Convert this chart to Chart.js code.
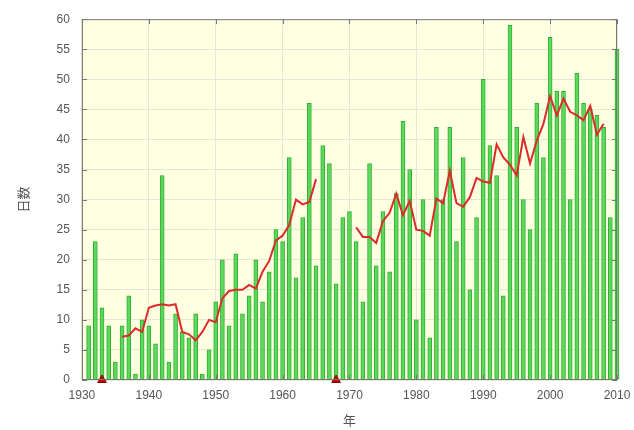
<!DOCTYPE html>
<html lang="ja">
<head>
<meta charset="utf-8">
<title>日数</title>
<script src="https://cdn.jsdelivr.net/npm/chart.js@4.4.1/dist/chart.umd.min.js"></script>
<style>
  html, body { margin: 0; padding: 0; background: #fff; }
  #wrap { width: 634px; height: 430px; }
</style>
</head>
<body>
<div id="wrap"><canvas id="grafico" width="634" height="430"></canvas></div>
<script>
// anos (1931-2010)
const anos = [
  1931, 1932, 1933, 1934, 1935, 1936, 1937, 1938, 1939, 1940,
  1941, 1942, 1943, 1944, 1945, 1946, 1947, 1948, 1949, 1950,
  1951, 1952, 1953, 1954, 1955, 1956, 1957, 1958, 1959, 1960,
  1961, 1962, 1963, 1964, 1965, 1966, 1967, 1968, 1969, 1970,
  1971, 1972, 1973, 1974, 1975, 1976, 1977, 1978, 1979, 1980,
  1981, 1982, 1983, 1984, 1985, 1986, 1987, 1988, 1989, 1990,
  1991, 1992, 1993, 1994, 1995, 1996, 1997, 1998, 1999, 2000,
  2001, 2002, 2003, 2004, 2005, 2006, 2007, 2008, 2009, 2010
];

// dias por ano (barras verdes)
const dias = [
   9, 23, 12,  9,  3,  9, 14,  1, 10,  9,
   6, 34,  3, 11,  8,  7, 11,  1,  5, 13,
  20,  9, 21, 11, 14, 20, 13, 18, 25, 23,
  37, 17, 27, 46, 19, 39, 36, 16, 27, 28,
  23, 13, 36, 19, 28, 18, 31, 43, 35, 10,
  30,  7, 42, 30, 42, 23, 37, 15, 27, 50,
  39, 34, 14, 59, 42, 30, 25, 46, 37, 57,
  48, 48, 30, 51, 46, 45, 44, 42, 27, 55
];

// media movel de 5 anos (linha vermelha), null = sem valor
const media5 = [
  null, null, null, null, null, 7.2, 7.4, 8.6, 8.0, 12.0,
  12.4, 12.6, 12.4, 12.6, 8.0, 7.6, 6.6, 8.0, 10.0, 9.6,
  13.6, 14.8, 15.0, 15.0, 15.8, 15.2, 18.0, 19.8, 23.2, 24.0,
  25.8, 30.0, 29.2, 29.6, 33.4, null, null, null, null, null,
  25.4, 23.8, 23.8, 22.8, 26.4, 27.8, 31.0, 27.4, 29.8, 25.0,
  24.8, 24.0, 30.2, 29.4, 34.8, 29.4, 28.8, 30.4, 33.6, 33.0,
  32.8, 39.2, 37.0, 35.8, 34.0, 40.4, 36.0, 39.8, 42.6, 47.2,
  44.0, 46.8, 44.6, 44.0, 43.2, 45.6, 40.8, 42.6, null, null
];

// anos marcados com triangulo
const marcas = [1933, 1968];

Chart.defaults.font.family = "'Liberation Sans', 'Noto Sans CJK JP', sans-serif";
Chart.defaults.font.size = 12;
Chart.defaults.color = "#555";

const fundo = {
  id: "fundo",
  beforeDraw(chart) {
    const { ctx, chartArea: a } = chart;
    ctx.save();
    ctx.fillStyle = "#ffffe2";
    ctx.fillRect(a.left, a.top, a.right - a.left, a.bottom - a.top);
    ctx.restore();
  },
  afterDatasetsDraw(chart) {
    const { ctx, chartArea: a, scales } = chart;
    ctx.save();
    ctx.strokeStyle = "#777";
    ctx.lineWidth = 1;
    ctx.strokeRect(a.left + 0.5, a.top + 0.5, a.right - a.left - 1, a.bottom - a.top - 1);
    // marcas internas estilo gnuplot
    ctx.beginPath();
    scales.x.ticks.forEach(t => {
      const x = Math.round(scales.x.getPixelForValue(t.value)) + 0.5;
      ctx.moveTo(x, a.top); ctx.lineTo(x, a.top + 5);
      ctx.moveTo(x, a.bottom); ctx.lineTo(x, a.bottom - 5);
    });
    scales.y.ticks.forEach(t => {
      const y = Math.round(scales.y.getPixelForValue(t.value)) + 0.5;
      ctx.moveTo(a.left, y); ctx.lineTo(a.left + 5, y);
      ctx.moveTo(a.right, y); ctx.lineTo(a.right - 5, y);
    });
    ctx.stroke();
    ctx.restore();
  }
};

new Chart(document.getElementById("grafico").getContext("2d"), {
  type: "bar",
  data: {
    datasets: [
      {
        type: "scatter",
        data: marcas.map(a => ({ x: a, y: 0 })),
        pointStyle: "triangle",
        pointRadius: 5,
        backgroundColor: "#c40000",
        borderColor: "#8a0000",
        borderWidth: 1,
        clip: false,
        order: 1
      },
      {
        type: "line",
        data: anos.map((a, i) => ({ x: a, y: media5[i] })),
        borderColor: "#dd2a2a",
        borderWidth: 2,
        pointRadius: 0,
        spanGaps: false,
        tension: 0,
        order: 2
      },
      {
        type: "bar",
        data: anos.map((a, i) => ({ x: a, y: dias[i] })),
        backgroundColor: "#5cd85c",
        borderColor: "#33b033",
        borderWidth: 1,
        barThickness: 4,
        clip: 4,
        order: 3
      }
    ]
  },
  options: {
    responsive: false,
    animation: false,
    layout: { padding: { top: 12, right: 17, bottom: 2, left: 15 } },
    plugins: {
      legend: { display: false },
      tooltip: { enabled: false }
    },
    scales: {
      x: {
        type: "linear",
        min: 1930,
        max: 2010,
        offset: false,
        grid: { offset: false, color: "#e6e6d6", drawTicks: false },
        border: { display: false },
        ticks: { stepSize: 10, padding: 8, callback: v => String(v), maxRotation: 0 },
        afterFit: s => { s.paddingRight = 2; },
        title: { display: true, text: "年", font: { size: 13, family: "'Noto Sans CJK JP', sans-serif" }, padding: { top: 2, bottom: 0 } }
      },
      y: {
        min: 0,
        max: 60,
        grid: { color: "#e6e6d6", drawTicks: false },
        border: { display: false },
        ticks: { stepSize: 5, padding: 12 },
        title: { display: true, text: "日数", font: { size: 13, family: "'Noto Sans CJK JP', sans-serif" }, padding: { top: 0, bottom: 14 } }
      }
    }
  },
  plugins: [fundo]
});
</script>
</body>
</html>
